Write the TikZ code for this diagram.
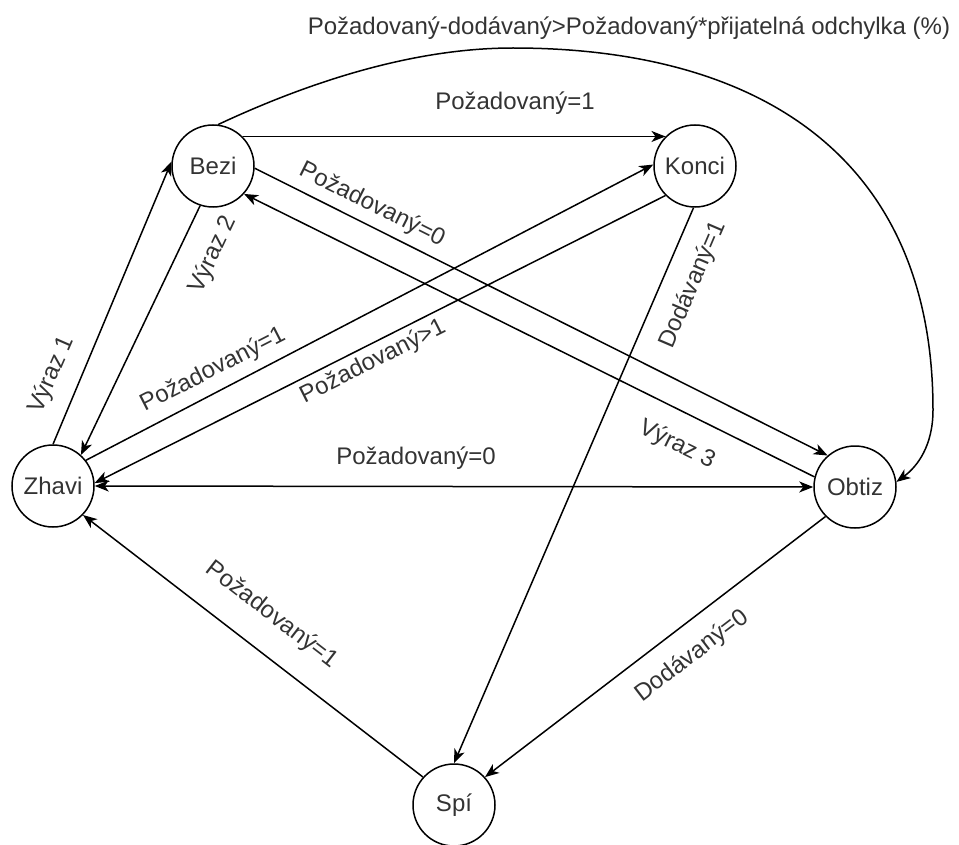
\documentclass[tikz,border=0pt]{standalone}
\usepackage{fontspec}
\setmainfont{Liberation Sans}
\usetikzlibrary{arrows.meta}
\definecolor{txt}{HTML}{333333}
\begin{document}
\begin{tikzpicture}[x=1pt,y=1pt,
  st/.style={circle, draw=black, line width=1.5pt, minimum size=82pt, inner sep=0pt, font=\fontsize{24}{28}\selectfont, text=txt},
  lbl/.style={inner sep=0pt, font=\fontsize{24}{28}\selectfont, text=txt},
  conn/.style={line width=1.5pt, -{Stealth[length=14pt,width=11pt,inset=4pt]}},
  bidir/.style={line width=1.5pt, {Stealth[length=14pt,width=11pt,inset=4pt]}-{Stealth[length=14pt,width=11pt,inset=4pt]}}
  ]
\useasboundingbox (0,0) rectangle (959,-845);

\node[st] (Bezi)  at (213,-166) {Bezi};
\node[st] (Konci) at (695,-166) {Konci};
\node[st] (Zhavi) at (53,-486)  {Zhavi};
\node[st] (Obtiz) at (855,-487) {Obtiz};
\node[st] (Spi)   at (454,-805) {Spí};

% edges
\draw[conn] (Bezi.45) -- (Konci.135);
\draw[conn] (Bezi.-3) -- (Obtiz.131);
\draw[conn] (Obtiz.166) -- (Bezi.-42);
\draw[conn] (Zhavi.90) -- (Bezi.174);
\draw[conn] (Bezi.-108) -- (Zhavi.48);
\draw[conn] (Zhavi.38) -- (Konci.178);
\draw[conn] (Konci.225) -- (Zhavi.4);
\draw[bidir] (Zhavi.east) -- (Obtiz.west);
\draw[conn] (Konci.-92) -- (Spi.north);
\draw[conn] (Obtiz.225) -- (Spi.42);
\draw[conn] (Spi.138) -- (Zhavi.-44);
\draw[conn] (Bezi.83) .. controls (309,-82) and (413,-48) .. (513,-48)
   .. controls (763,-48) and (933,-160) .. (933,-410)
   .. controls (933,-445) and (918,-466) .. (Obtiz.7);

% labels
\node[lbl] (lT)  at (629,-28) {Požadovaný-dodávaný>Požadovaný*přijatelná odchylka (\%)};
\node[lbl] (lBK) at (515,-103) {Požadovaný=1};
\node[lbl, rotate=-26.6] (lBO) at (372,-205) {Požadovaný=0};
\node[lbl, rotate=-26.2] (lOB) at (677,-445) {Výraz 3};
\node[lbl, rotate=66.4] (lZB) at (52,-375) {Výraz 1};
\node[lbl, rotate=64.8] (lBZ) at (213,-255) {Výraz 2};
\node[lbl, rotate=27.1] (lZK) at (213,-370) {Požadovaný=1};
\node[lbl, rotate=26.8] (lKZ) at (373,-362) {Požadovaný>1};
\node[lbl] (lZO) at (416,-458) {Požadovaný=0};
\node[lbl, rotate=66.8] (lKS) at (693,-285) {Dodávaný=1};
\node[lbl, rotate=37.4] (lOS) at (692,-656) {Dodávaný=0};
\node[lbl, rotate=-37.6] (lSZ) at (272,-615) {Požadovaný=1};
\end{tikzpicture}
\end{document}
